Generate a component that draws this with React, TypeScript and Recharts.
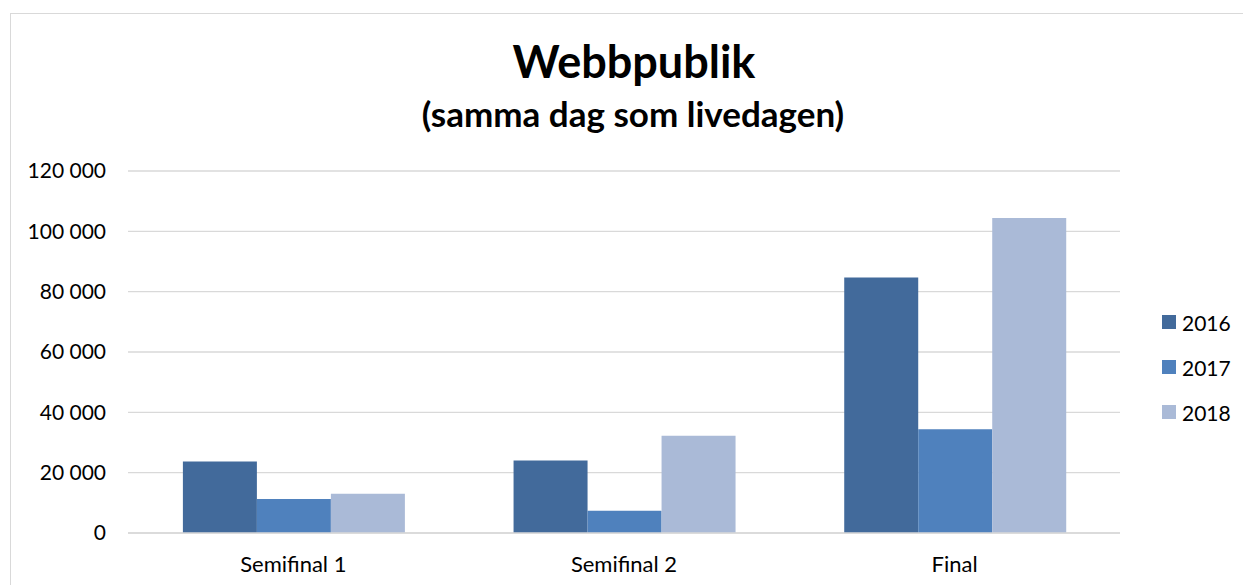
import React from "react";
import { BarChart, Bar, XAxis, YAxis, CartesianGrid } from "recharts";

const categories = ["Semifinal 1", "Semifinal 2", "Final"];
const years = ["2016", "2017", "2018"];
const values2016 = [23700, 24000, 84700];
const values2017 = [11300, 7400, 34400];
const values2018 = [13000, 32200, 104400];
const yTicks = [0, 20000, 40000, 60000, 80000, 100000, 120000];
const colors = ["#426A9B", "#4F81BD", "#AABAD7"];

const chartData = categories.map((name, i) => ({
  name,
  "2016": values2016[i],
  "2017": values2017[i],
  "2018": values2018[i],
}));

const FONT = "Lato, 'Open Sans', sans-serif";

// "120000" -> "120 000"
const formatTick = (v: number) =>
  String(v).replace(/\B(?=(\d{3})+(?!\d))/g, " ");

const App: React.FC = () => {
  return (
    <div
      style={{
        position: "absolute",
        left: 0,
        top: 0,
        width: 1243,
        height: 585,
        overflow: "hidden",
        background: "#fff",
        fontFamily: FONT,
      }}
    >
      {/* chart frame, cropped on the right and bottom */}
      <div
        style={{
          position: "absolute",
          left: 10,
          top: 13,
          width: 1300,
          height: 640,
          border: "1px solid #d9d9d9",
        }}
      />
      <div
        style={{
          position: "absolute",
          left: 0,
          width: 1268,
          top: 39,
          fontSize: 45,
          lineHeight: "45px",
          fontWeight: 700,
          textAlign: "center",
          color: "#000",
        }}
      >
        Webbpublik
      </div>
      <div
        style={{
          position: "absolute",
          left: 0,
          width: 1266,
          top: 96,
          fontSize: 35,
          lineHeight: "35px",
          fontWeight: 700,
          textAlign: "center",
          color: "#000",
        }}
      >
        (samma dag som livedagen)
      </div>

      <div style={{ position: "absolute", left: 0, top: 0 }}>
        <BarChart
          width={1243}
          height={585}
          data={chartData}
          margin={{ top: 171, right: 123, left: 18, bottom: 22 }}
          barCategoryGap="16.6%"
          barGap={0}
        >
          <CartesianGrid vertical={false} stroke="#d9d9d9" strokeWidth={1.3} />
          <XAxis
            dataKey="name"
            axisLine={{ stroke: "#d9d9d9", strokeWidth: 1.3 }}
            tickLine={false}
            tickMargin={17}
            tick={{ fill: "#000", fontSize: 22, fontFamily: FONT }}
          />
          <YAxis
            width={110}
            domain={[0, 120000]}
            ticks={yTicks}
            axisLine={false}
            tickLine={false}
            tickMargin={16}
            tickFormatter={formatTick}
            tick={{ fill: "#000", fontSize: 21, fontFamily: FONT }}
          />
          {years.map((y, i) => (
            <Bar
              key={y}
              dataKey={y}
              fill={colors[i]}
              isAnimationActive={false}
            />
          ))}
        </BarChart>
      </div>

      {/* legend */}
      {years.map((y, i) => (
        <div
          key={y}
          style={{
            position: "absolute",
            left: 1162,
            top: 309 + i * 45,
            height: 26,
            display: "flex",
            alignItems: "center",
            fontSize: 21,
            color: "#000",
          }}
        >
          <span
            style={{
              display: "inline-block",
              width: 14,
              height: 14,
              background: colors[i],
              marginRight: 6,
            }}
          />
          {y}
        </div>
      ))}
    </div>
  );
};

export default App;
